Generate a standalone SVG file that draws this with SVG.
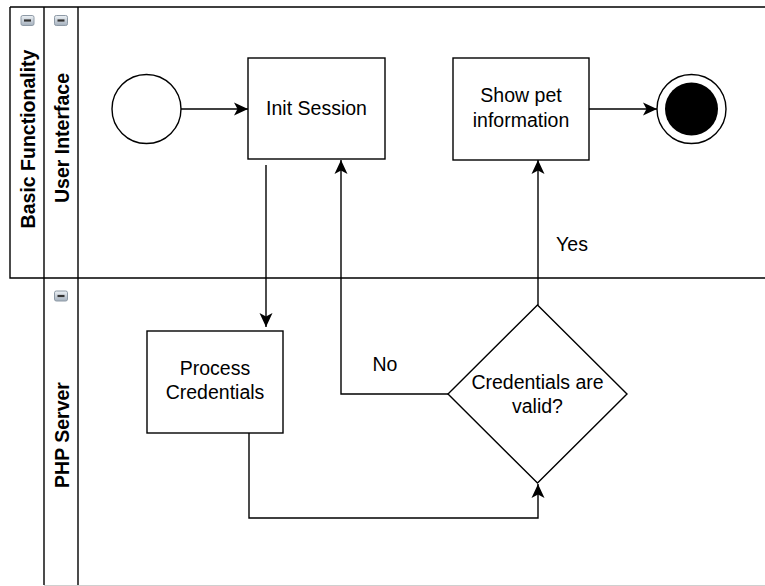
<svg xmlns="http://www.w3.org/2000/svg" width="765" height="586" viewBox="0 0 765 586">
  <defs>
    <style>
      .lane { fill: none; stroke: #000; stroke-width: 1.4; }
      .node { fill: #fff; stroke: #000; stroke-width: 1.4; }
      .edge { fill: none; stroke: #000; stroke-width: 1.4; }
      .lbl { font-family: "Liberation Sans", Arial, Helvetica, sans-serif; font-size: 19.5px; fill: #000; text-anchor: middle; }
      .hdr { font-family: "Liberation Sans", Arial, Helvetica, sans-serif; font-size: 19.5px; font-weight: bold; fill: #000; text-anchor: middle; }
    </style>
    <linearGradient id="iconFill" x1="0" y1="0" x2="0" y2="1">
      <stop offset="0" stop-color="#eef2f6"/>
      <stop offset="1" stop-color="#a4b0bd"/>
    </linearGradient>
    <g id="collapse">
      <rect x="-6.5" y="-5" width="13" height="10" rx="1.8" fill="url(#iconFill)" stroke="#8e9aa6" stroke-width="1"/>
      <line x1="-3.5" y1="0" x2="3.5" y2="0" stroke="#333" stroke-width="2.2"/>
    </g>
    <marker id="arrow" markerUnits="userSpaceOnUse" markerWidth="16" markerHeight="16" refX="14" refY="7" orient="auto">
      <path d="M0,0.5 L14,7 L0,13.5 L3.5,7 Z" fill="#000"/>
    </marker>
  </defs>

  <rect width="765" height="586" fill="#fff"/>

  <!-- pool and lanes -->
  <g id="pool">
    <path class="lane" d="M10,7 H765 M10,7 V278 H765 M44,7 V585 M78,7 V585"/>
    <line x1="44" y1="585.5" x2="765" y2="585.5" stroke="#cfcfcf" stroke-width="1"/>
    <use href="#collapse" x="27.5" y="20.5"/>
    <use href="#collapse" x="61" y="20.5"/>
    <use href="#collapse" x="61" y="296"/>
    <text class="hdr" transform="translate(34.5,139) rotate(-90)">Basic Functionality</text>
    <text class="hdr" transform="translate(68.5,138) rotate(-90)">User Interface</text>
    <text class="hdr" transform="translate(68.5,435) rotate(-90)">PHP Server</text>
  </g>

  <!-- connectors -->
  <g id="connectors">
    <path class="edge" d="M181,109 H248" marker-end="url(#arrow)"/>
    <path class="edge" d="M589,109 H657" marker-end="url(#arrow)"/>
    <path class="edge" d="M266,165 V327" marker-end="url(#arrow)"/>
    <path class="edge" d="M448,394 H341 V160" marker-end="url(#arrow)"/>
    <path class="edge" d="M538,305 V160" marker-end="url(#arrow)"/>
    <path class="edge" d="M249,433 V518 H538 V484" marker-end="url(#arrow)"/>
    <text class="lbl" x="385" y="371">No</text>
    <text class="lbl" x="572" y="251">Yes</text>
  </g>

  <g id="start">
    <circle class="node" cx="146.5" cy="109" r="34.5"/>
  </g>

  <g id="init-session">
    <rect class="node" x="248" y="58" width="137" height="101"/>
    <text class="lbl" x="316.5" y="115">Init Session</text>
  </g>

  <g id="show-pet">
    <rect class="node" x="453" y="58" width="136" height="102"/>
    <text class="lbl" x="521" y="102">Show pet</text>
    <text class="lbl" x="521" y="127">information</text>
  </g>

  <g id="end">
    <circle class="node" cx="691.5" cy="109" r="34.5"/>
    <circle cx="691.5" cy="109" r="26.5" fill="#000"/>
  </g>

  <g id="process-credentials">
    <rect class="node" x="147" y="331" width="136" height="102"/>
    <text class="lbl" x="215" y="375">Process</text>
    <text class="lbl" x="215" y="399">Credentials</text>
  </g>

  <g id="credentials-valid">
    <path class="node" d="M537.5,305 L627,394 L537.5,483 L448,394 Z"/>
    <text class="lbl" x="537.5" y="389">Credentials are</text>
    <text class="lbl" x="537.5" y="413">valid?</text>
  </g>
</svg>
